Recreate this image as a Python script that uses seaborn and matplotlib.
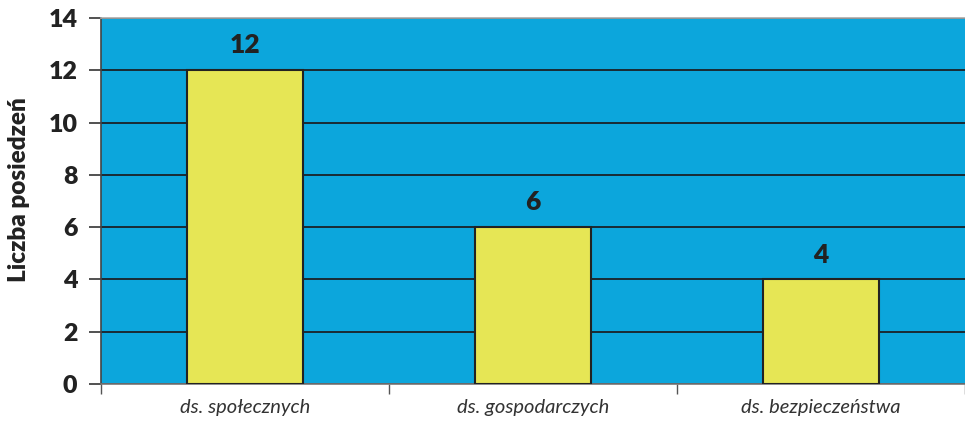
import matplotlib
matplotlib.use("Agg")
import matplotlib.pyplot as plt
import seaborn as sns
import pandas as pd
from matplotlib.ticker import FixedLocator

categories = ["ds. społecznych", "ds. gospodarczych", "ds. bezpieczeństwa"]
values = [12, 6, 4]
yticks = [0, 2, 4, 6, 8, 10, 12, 14]

sns.set_style("white")
plt.rcParams['font.family'] = ['Lato', 'DejaVu Sans']

df = pd.DataFrame({"cat": categories, "val": values})

fig = plt.figure(figsize=(9.65, 4.22), dpi=100)
ax = fig.add_axes([101/965, 38/422, 1 - 101/965, (384-18)/422])
ax.set_facecolor("#0CA6DC")

sns.barplot(data=df, x="cat", y="val", ax=ax, color="#E6E655", width=0.4,
            edgecolor="#222222", linewidth=1.5, saturation=1, zorder=3)

ax.set_ylim(0, 14)
ax.set_xlim(-0.5, 2.5)
ax.set_yticks(yticks)
ax.set_yticklabels([str(t) for t in yticks], fontsize=18, fontweight="heavy", color="#222222")
ax.yaxis.grid(True, color="#1a2a33", linewidth=1.4, zorder=1)
ax.set_axisbelow(True)

ax.tick_params(axis="y", length=9, width=1.2, color="#333333", pad=8, left=True)
ax.set_xticks(range(len(categories)))
ax.set_xticklabels(categories, fontsize=14.5, fontstyle="italic", color="#333333")
ax.tick_params(axis="x", which="major", length=0, pad=11)
ax.xaxis.set_minor_locator(FixedLocator([-0.5, 0.5, 1.5, 2.5]))
ax.tick_params(axis="x", which="minor", length=7, width=1.0, color="#555555", bottom=True)

ax.set_xlabel("")
ax.set_ylabel("Liczba posiedzeń", fontsize=17.5, fontweight="heavy", color="#222222")
ax.yaxis.set_label_coords(-0.095, 0.53)
ax.yaxis.label.set_verticalalignment("center")

ax.spines["right"].set_visible(False)
ax.spines["top"].set_color("#aaaaaa")
ax.spines["top"].set_linewidth(1.2)
ax.spines["left"].set_color("#444444")
ax.spines["left"].set_linewidth(1.2)
ax.spines["bottom"].set_color("#777777")
ax.spines["bottom"].set_linewidth(1.2)

for i, v in enumerate(values):
    ax.text(i, v + 0.95, str(v), ha="center", va="center", fontsize=19,
            fontweight="heavy", color="#222222")

fig.savefig("out.png", dpi=100)
